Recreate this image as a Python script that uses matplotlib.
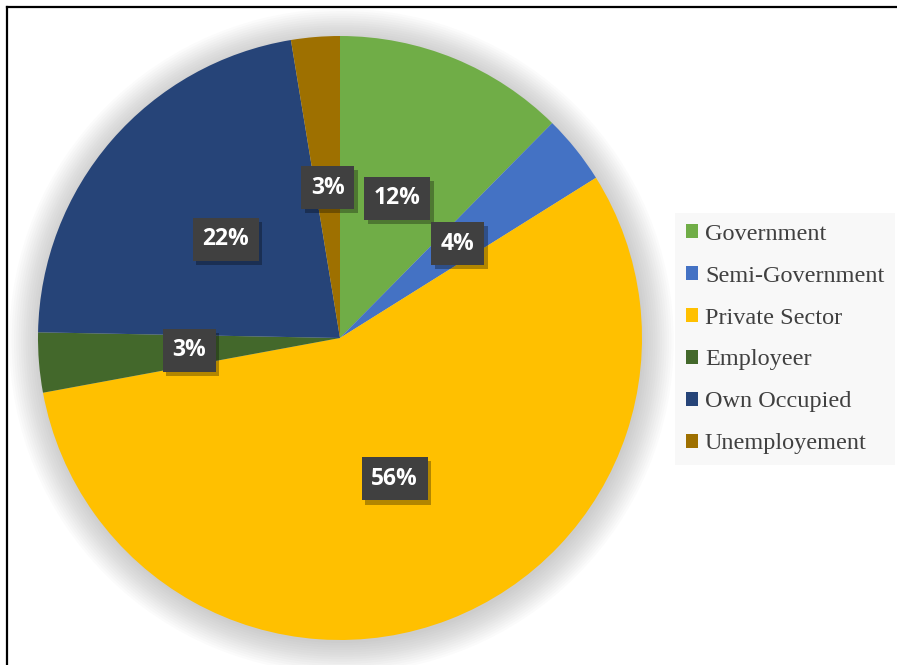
import matplotlib.pyplot as plt
import matplotlib.patheffects as pe
from matplotlib.lines import Line2D
from matplotlib.patches import Circle
import numpy as np

plt.rcParams['font.family'] = 'Liberation Serif'

# 数据
categories = ['Government', 'Semi-Government', 'Private Sector', 'Employeer',
              'Own Occupied', 'Unemployement']
shares = [12.4, 3.7, 56.0, 3.2, 22.1, 2.6]
colors = ['#70AD47', '#4472C4', '#FFC000', '#43682B', '#264478', '#9E7000']

W, H = 897, 665
fig = plt.figure(figsize=(W / 100, H / 100), dpi=100)

# 饼图位置: 圆心 (340, 338) px, 半径 302 px
cx, cy, r = 340, 338, 302
ax = fig.add_axes([(cx - r) / W, (H - cy - r) / H, 2 * r / W, 2 * r / H])

# 柔和阴影
for rr in np.linspace(1.10, 1.0, 14):
    ax.add_patch(Circle((0.005, -0.01), rr, color='#808080', alpha=0.03, lw=0,
                        zorder=0, clip_on=False))

wedges, texts, autotexts = ax.pie(
    shares, colors=colors, startangle=90, counterclock=False,
    autopct='%.0f%%', pctdistance=0.5, radius=1.0,
    wedgeprops=dict(linewidth=0, zorder=2),
    textprops=dict(color='white', fontsize=16.5, fontweight='bold', family='Open Sans'),
)
ax.set_xlim(-1, 1)
ax.set_ylim(-1, 1)
ax.set_aspect('equal')
ax.axis('off')

for t in autotexts:
    t.set_zorder(4)
    t.set_bbox(dict(boxstyle='square,pad=0.42', fc='#404040', ec='none'))
    # 标签阴影
    t.get_bbox_patch().set_path_effects([
        pe.SimplePatchShadow(offset=(2.5, -3), shadow_rgbFace='black', alpha=0.3),
        pe.Normal()])

# 图例
leg = fig.legend(wedges, categories, loc='center left',
                 bbox_to_anchor=(675 / W, (H - 339) / H),
                 fontsize=17.5, frameon=True, fancybox=False,
                 facecolor='#F8F8F8', edgecolor='none', framealpha=1,
                 handlelength=0.5, handleheight=0.5, handletextpad=0.28,
                 labelspacing=0.86, borderpad=0.45, borderaxespad=0)
for txt in leg.get_texts():
    txt.set_color('#404040')

# 左侧和顶部边框
fig.add_artist(Line2D([6.5 / W, 1.0], [1 - 6.5 / H, 1 - 6.5 / H], color='black', lw=1.6,
                      transform=fig.transFigure))
fig.add_artist(Line2D([6.5 / W, 6.5 / W], [0, 1 - 6.5 / H], color='black', lw=1.6,
                      transform=fig.transFigure))

fig.savefig('out.png', dpi=100)
